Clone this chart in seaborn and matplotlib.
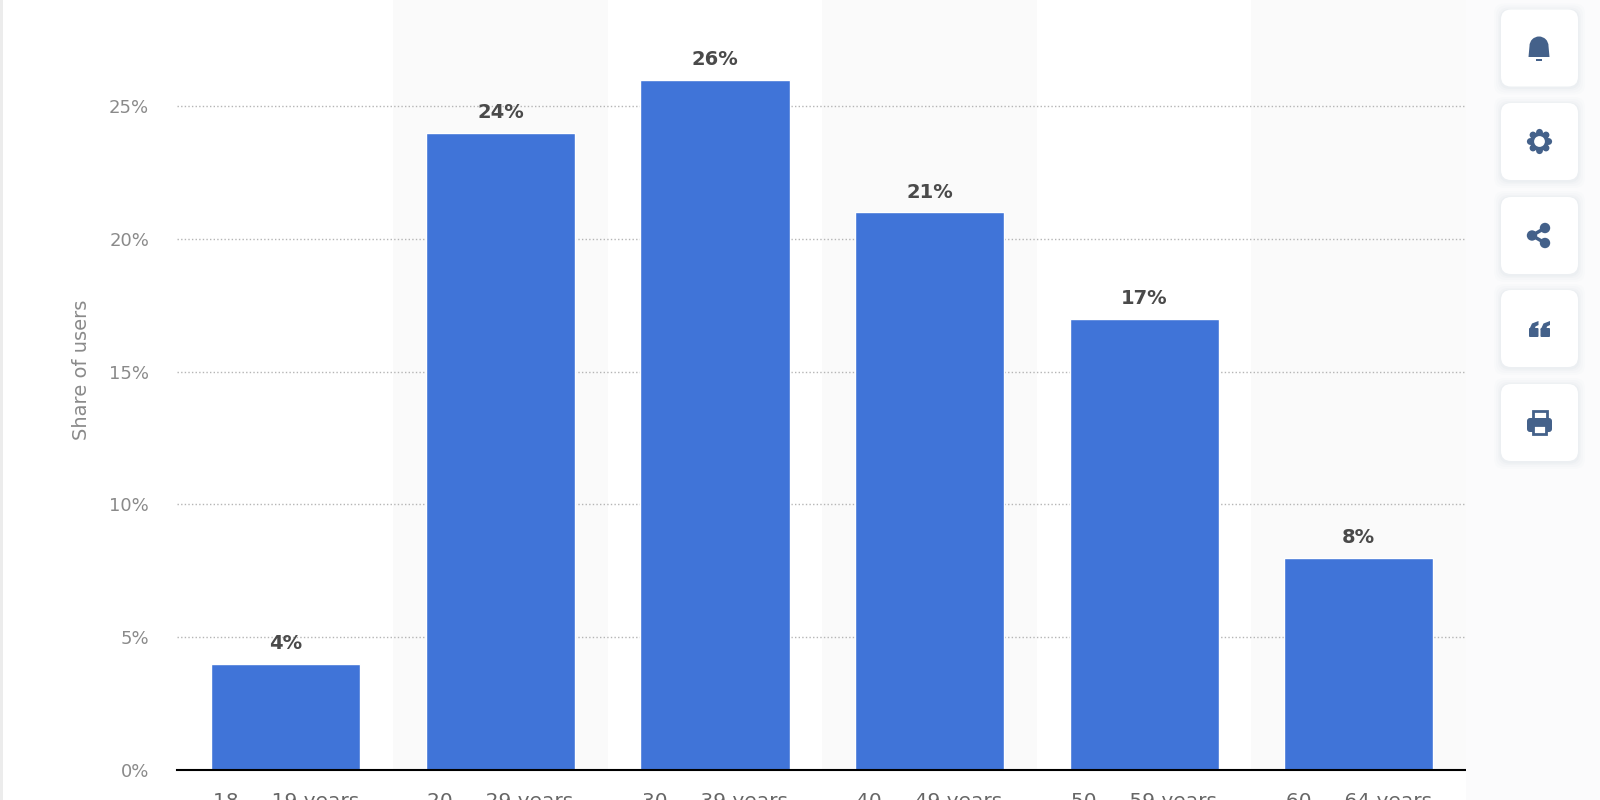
import matplotlib
matplotlib.use('Agg')
import matplotlib.pyplot as plt
import seaborn as sns
from matplotlib.patches import Circle, FancyBboxPatch, Polygon, Rectangle, Wedge

age_groups = ['18 — 19 years', '20 — 29 years', '30 — 39 years', '40 — 49 years', '50 — 59 years', '60 — 64 years']
share_of_users = [4, 24, 26, 21, 17, 8]
y_ticks = [0, 5, 10, 15, 20, 25]
y_tick_labels = ['0%', '5%', '10%', '15%', '20%', '25%']

sns.set_theme(style='white')
plt.rcParams['font.family'] = ['DejaVu Sans']

fig = plt.figure(figsize=(16, 8), dpi=100, facecolor='white')
# axes reach the top of the page, the screenshot cuts them there
ax = fig.add_axes([177 / 1600, 30 / 800, 1289 / 1600, 770 / 800])

sns.barplot(x=age_groups, y=share_of_users, color='#4074d8', saturation=1, width=0.695, ax=ax)

# alternating column bands
for i in range(1, len(age_groups), 2):
    ax.axvspan(i - 0.5, i + 0.5, color='#fafafa', lw=0, zorder=0)

ax.set_xlim(-0.507, 5.5)
ax.set_ylim(0, 29)
ax.set_yticks(y_ticks)
ax.set_yticklabels(y_tick_labels)
ax.set_axisbelow(True)
ax.yaxis.grid(True, linestyle=(0, (1, 1.6)), color='#b5b5b5', linewidth=1)
ax.xaxis.grid(False)
ax.tick_params(axis='y', length=0, pad=20, labelsize=13, labelcolor='#8a8a8a')
ax.tick_params(axis='x', length=0, pad=16, labelsize=14.5, labelcolor='#666666')

for side in ['top', 'left', 'right']:
    ax.spines[side].set_visible(False)
ax.spines['bottom'].set_color('black')
ax.spines['bottom'].set_linewidth(1.5)

ax.set_ylabel('Share of users', fontsize=14, color='#8a8a8a')
ax.yaxis.set_label_coords(-86 / 1289, 0.52)

ax.bar_label(ax.containers[0], fmt='%g%%', padding=7.5, fontsize=14, fontweight='bold', color='#4a4a4a')

# page chrome: left edge and the side toolbar, in pixel coordinates
chrome = fig.add_axes([0, 0, 1, 1], facecolor='none')
chrome.set_xlim(0, 1600)
chrome.set_ylim(800, 0)
chrome.axis('off')
chrome.add_patch(Rectangle((0, 0), 2.5, 800, color='#ececec', lw=0))
chrome.add_patch(Rectangle((1466, 0), 134, 800, color='#fbfbfc', lw=0))

icon = '#44618a'
for top in [9.5, 103, 197, 290, 384]:
    for grow, alpha in [(7, 0.012), (5, 0.015), (3, 0.02), (1.5, 0.025)]:
        chrome.add_patch(FancyBboxPatch((1509 - grow, top + 8 - grow + 1), 61 + 2 * grow, 61 + 2 * grow,
                                        boxstyle='round,pad=8,rounding_size=10', color='#44618a', alpha=alpha, lw=0))
    chrome.add_patch(FancyBboxPatch((1509, top + 8), 61, 61, boxstyle='round,pad=8,rounding_size=10',
                                    color='white', lw=0))

# bell
chrome.add_patch(Wedge((1539, 46), 9.5, 180, 360, color=icon, lw=0))
chrome.add_patch(Polygon([(1529.5, 46), (1548.5, 46), (1549.5, 57), (1528.5, 57)], color=icon, lw=0))
chrome.add_patch(Rectangle((1536, 58.5), 6, 2, color=icon, lw=0))

# gear
chrome.add_patch(Circle((1539.5, 141.5), 9.5, color=icon, lw=0))
for dx, dy in [(0, -9.2), (6.5, -6.5), (9.2, 0), (6.5, 6.5), (0, 9.2), (-6.5, 6.5), (-9.2, 0), (-6.5, -6.5)]:
    chrome.add_patch(Circle((1539.5 + dx, 141.5 + dy), 3.4, color=icon, lw=0))
chrome.add_patch(Circle((1539.5, 141.5), 5.4, color='white', lw=0))

# share
chrome.plot([1545, 1532, 1545], [228, 235.5, 243], color=icon, lw=2.5)
for cx, cy in [(1545, 228), (1532, 235.5), (1545, 243)]:
    chrome.add_patch(Circle((cx, cy), 5.2, color=icon, lw=0))

# quote
for x0 in [1529, 1540.5]:
    chrome.add_patch(FancyBboxPatch((x0 + 1, 329), 7.5, 7, boxstyle='round,pad=1,rounding_size=1', color=icon, lw=0))
    chrome.add_patch(Polygon([(x0, 330), (x0 + 3, 323.5), (x0 + 9.5, 321), (x0 + 9.5, 325), (x0 + 6.5, 326.5), (x0 + 5.5, 330)],
                             color=icon, lw=0))

# printer
chrome.add_patch(Rectangle((1532.5, 411), 14, 9, facecolor='white', edgecolor=icon, lw=2))
chrome.add_patch(FancyBboxPatch((1529, 420), 21, 10, boxstyle='round,pad=2,rounding_size=3', color=icon, lw=0))
chrome.add_patch(Rectangle((1533, 425), 13, 9, facecolor='white', edgecolor=icon, lw=2))

plt.savefig('out.png', dpi=100)
